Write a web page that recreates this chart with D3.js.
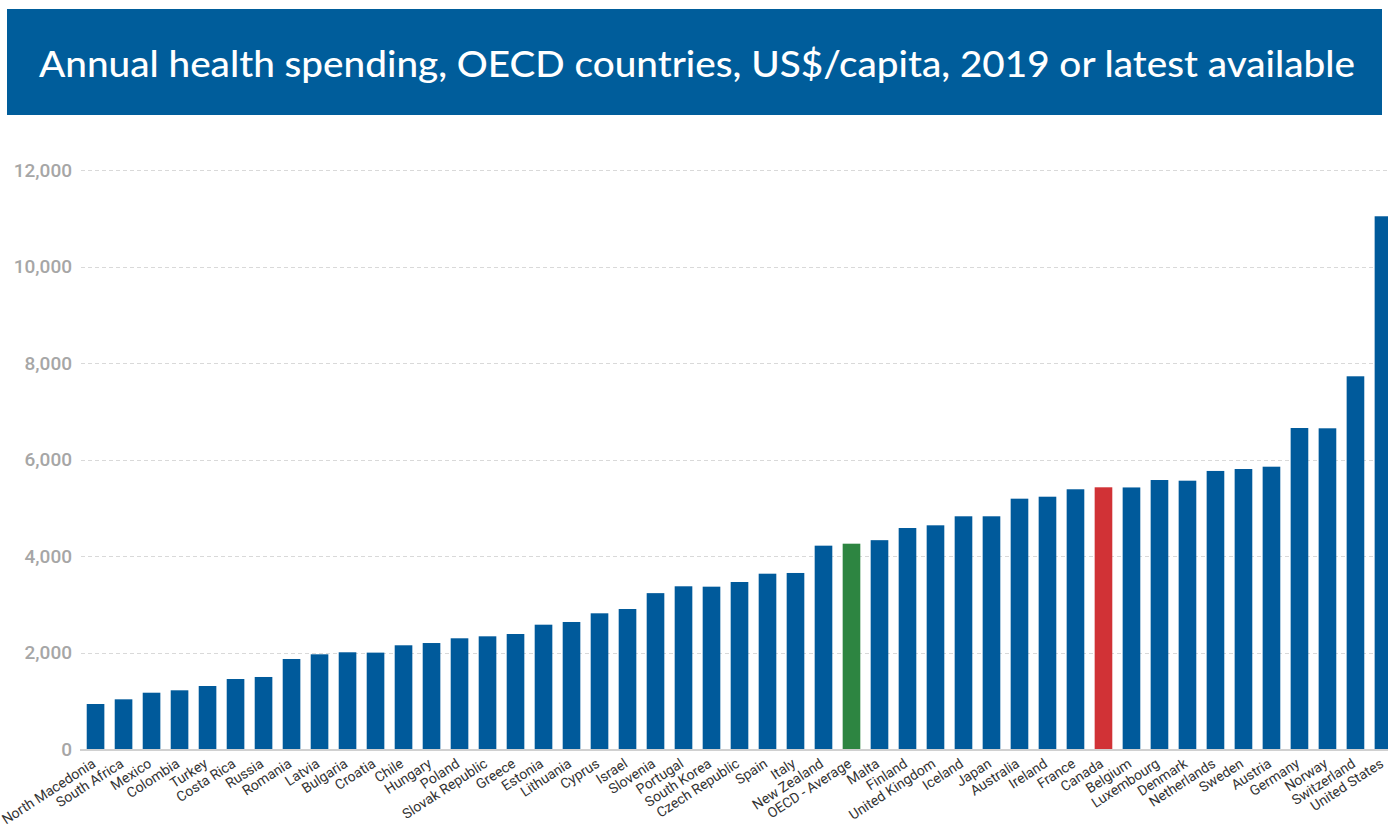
<!DOCTYPE html>
<html>
<head>
<meta charset="utf-8">
<script src="https://cdn.jsdelivr.net/npm/d3@7"></script>
<style>
  html, body { margin: 0; padding: 0; background: #fff; }
  svg { display: block; }
</style>
</head>
<body>
<svg id="chart" width="1388" height="829"></svg>
<script>
// Annual health spending per capita (US$), 2019 or latest available
const countries = [
  "North Macedonia", "South Africa", "Mexico", "Colombia", "Turkey", "Costa Rica",
  "Russia", "Romania", "Latvia", "Bulgaria", "Croatia", "Chile", "Hungary", "Poland",
  "Slovak Republic", "Greece", "Estonia", "Lithuania", "Cyprus", "Israel", "Slovenia",
  "Portugal", "South Korea", "Czech Republic", "Spain", "Italy", "New Zealand",
  "OECD - Average", "Malta", "Finland", "United Kingdom", "Iceland", "Japan",
  "Australia", "Ireland", "France", "Canada", "Belgium", "Luxembourg", "Denmark",
  "Netherlands", "Sweden", "Austria", "Germany", "Norway", "Switzerland", "United States"
];
const spending = [
  939, 1036, 1173, 1223, 1312, 1457,
  1499, 1872, 1969, 2011, 2004, 2156, 2203, 2301,
  2342, 2390, 2583, 2639, 2819, 2908, 3237,
  3379, 3371, 3468, 3640, 3655, 4221,
  4262, 4335, 4587, 4643, 4830, 4830,
  5195, 5236, 5390, 5431, 5428, 5582, 5568,
  5770, 5810, 5858, 6660, 6654, 7732, 11049
];
const yTicks = [0, 2000, 4000, 6000, 8000, 10000, 12000];
const titleText = "Annual health spending, OECD countries, US$/capita, 2019 or latest available";
const highlight = { "OECD - Average": "#2d8541", "Canada": "#d13236" };

const data = countries.map((c, i) => ({ country: c, value: spending[i] }));

const svg = d3.select("#chart");

// Title banner
svg.append("rect")
  .attr("x", 7).attr("y", 9)
  .attr("width", 1375).attr("height", 106)
  .attr("fill", "#005d9b");
svg.append("text")
  .attr("x", 697).attr("y", 77)
  .attr("text-anchor", "middle")
  .attr("fill", "#fff")
  .attr("font-family", "Lato, 'Open Sans', sans-serif")
  .attr("font-weight", 500)
  .attr("font-size", 37)
  .attr("textLength", 1316)
  .attr("lengthAdjust", "spacingAndGlyphs")
  .text(titleText);

// Scales
const x = d3.scaleBand()
  .domain(countries)
  .range([80, 1399])
  .paddingInner(0.37)
  .paddingOuter(0.24);

const y = d3.scaleLinear()
  .domain([0, 12000])
  .range([749.3, 170.4]);

// Gridlines
svg.append("g")
  .selectAll("line")
  .data(yTicks.filter(d => d > 0))
  .join("line")
  .attr("x1", 81).attr("x2", 1388)
  .attr("y1", d => Math.round(y(d)) + 0.5)
  .attr("y2", d => Math.round(y(d)) + 0.5)
  .attr("stroke", "#d9d9d9")
  .attr("stroke-width", 1)
  .attr("stroke-dasharray", "4,3");

// Y axis labels
const yAxis = d3.axisLeft(y)
  .tickValues(yTicks)
  .tickFormat(d3.format(","))
  .tickSize(0)
  .tickPadding(0);
const yg = svg.append("g")
  .attr("transform", "translate(72,0)")
  .call(yAxis);
yg.select(".domain").remove();
yg.selectAll("text")
  .attr("fill", "#a6a6a6")
  .attr("font-family", "Roboto, sans-serif")
  .attr("font-weight", 500)
  .attr("font-size", 19);

// Bars
svg.append("g")
  .selectAll("rect")
  .data(data)
  .join("rect")
  .attr("x", d => x(d.country))
  .attr("y", d => y(d.value))
  .attr("width", x.bandwidth())
  .attr("height", d => y(0) - y(d.value))
  .attr("fill", d => highlight[d.country] || "#005a9b");

// Baseline
svg.append("line")
  .attr("x1", 80).attr("x2", 1388)
  .attr("y1", 750).attr("y2", 750)
  .attr("stroke", "#d0d0d0")
  .attr("stroke-width", 2);

// X axis labels, slanted
const xAxis = d3.axisBottom(x).tickSize(0).tickPadding(0);
const xg = svg.append("g")
  .attr("transform", "translate(0,751)")
  .call(xAxis);
xg.select(".domain").remove();
xg.selectAll("text")
  .attr("fill", "#333")
  .attr("font-family", "Roboto, sans-serif")
  .attr("font-size", 14)
  .attr("text-anchor", "end")
  .attr("dy", null)
  .attr("y", 0)
  .attr("transform", "translate(1,15) rotate(-33)");
</script>
</body>
</html>
